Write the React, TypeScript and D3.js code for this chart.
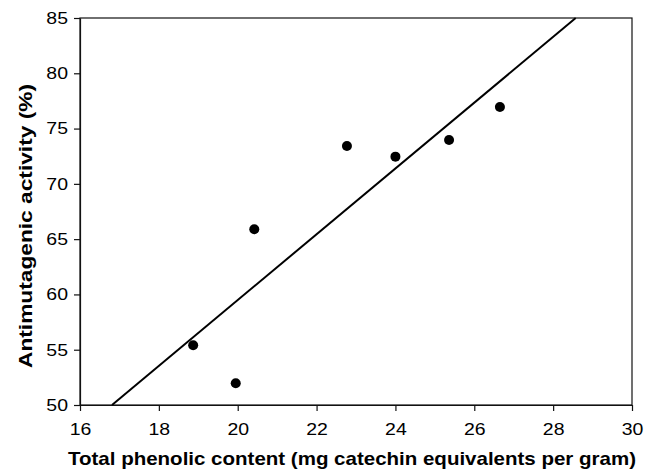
import React, { useEffect, useRef } from 'react';
import * as d3 from 'd3';

// total phenolic content (mg catechin equivalents per gram)
const phenolic = [18.87, 19.95, 20.42, 22.77, 24.0, 25.36, 26.65];
// antimutagenic activity (%)
const activity = [55.4, 51.96, 65.89, 73.42, 72.46, 73.97, 76.95];

const xTicks = [16, 18, 20, 22, 24, 26, 28, 30];
const yTicks = [50, 55, 60, 65, 70, 75, 80, 85];

const width = 662;
const height = 470;
const margin = { left: 80, right: 30, top: 18, bottom: 65 };

const drawChart = (node: SVGSVGElement) => {
  const svg = d3.select(node);
  svg.selectAll('*').remove();

  const x = d3.scaleLinear().domain([16, 30]).range([margin.left, width - margin.right]);
  const y = d3.scaleLinear().domain([50, 85]).range([height - margin.bottom, margin.top]);

  const font = '"Liberation Sans", Arial, sans-serif';
  const stretch = 1.18; // the original lettering is a little wide

  // frame
  svg.append('rect')
    .attr('x', x(16))
    .attr('y', y(85))
    .attr('width', x(30) - x(16))
    .attr('height', y(50) - y(85))
    .attr('fill', 'none')
    .attr('stroke', '#111')
    .attr('stroke-width', 1.2);

  const xAxis = d3.axisBottom(x).tickValues(xTicks).tickSize(6).tickSizeOuter(0);
  const gx = svg.append('g')
    .attr('transform', `translate(0,${y(50)})`)
    .call(xAxis);
  gx.select('.domain').attr('stroke', '#111').attr('stroke-width', 1.2);
  gx.selectAll('.tick line').attr('stroke', '#111').attr('stroke-width', 1.2);
  gx.selectAll('.tick text')
    .attr('font-family', font)
    .attr('font-size', 16.5)
    .attr('fill', '#000')
    .attr('y', 30)
    .attr('dy', null)
    .attr('transform', `scale(${stretch},1)`);

  const yAxis = d3.axisLeft(y).tickValues(yTicks).tickSize(6).tickSizeOuter(0);
  const gy = svg.append('g')
    .attr('transform', `translate(${x(16)},0)`)
    .call(yAxis);
  gy.select('.domain').attr('stroke', '#111').attr('stroke-width', 1.2);
  gy.selectAll('.tick line').attr('stroke', '#111').attr('stroke-width', 1.2);
  gy.selectAll('.tick text')
    .attr('font-family', font)
    .attr('font-size', 16.5)
    .attr('fill', '#000')
    .attr('x', -12 / stretch)
    .attr('transform', `scale(${stretch},1)`);

  // least squares trend line, clipped to the plot box
  const mx = d3.mean(phenolic) as number;
  const my = d3.mean(activity) as number;
  const sxy = d3.sum(phenolic, (v, i) => (v - mx) * (activity[i] - my));
  const sxx = d3.sum(phenolic, v => (v - mx) * (v - mx));
  const slope = sxy / sxx;
  const icpt = my - slope * mx;
  const x0 = (50 - icpt) / slope;
  const x1 = (85 - icpt) / slope;
  svg.append('line')
    .attr('x1', x(x0))
    .attr('y1', y(50))
    .attr('x2', x(x1))
    .attr('y2', y(85))
    .attr('stroke', '#000')
    .attr('stroke-width', 2);

  svg.selectAll('.dot')
    .data(phenolic)
    .enter()
    .append('circle')
    .attr('class', 'dot')
    .attr('cx', d => x(d))
    .attr('cy', (d, i) => y(activity[i]))
    .attr('r', 5)
    .attr('fill', '#000');

  svg.append('text')
    .attr('x', 352)
    .attr('y', 465)
    .attr('text-anchor', 'middle')
    .attr('font-family', font)
    .attr('font-weight', 'bold')
    .attr('font-size', 18.5)
    .attr('textLength', 568)
    .attr('lengthAdjust', 'spacingAndGlyphs')
    .text('Total phenolic content (mg catechin equivalents per gram)');

  svg.append('text')
    .attr('transform', `translate(31.5,226) rotate(-90)`)
    .attr('text-anchor', 'middle')
    .attr('font-family', font)
    .attr('font-weight', 'bold')
    .attr('font-size', 19)
    .attr('textLength', 284)
    .attr('lengthAdjust', 'spacingAndGlyphs')
    .text('Antimutagenic activity (%)');
};

const App = () => {
  const ref = useRef<SVGSVGElement>(null);
  useEffect(() => {
    if (ref.current) drawChart(ref.current);
  }, []);
  return (
    <svg
      ref={ref}
      width={width}
      height={height}
      style={{ position: 'absolute', left: 0, top: 0, background: '#fff' }}
    />
  );
};

export default App;
